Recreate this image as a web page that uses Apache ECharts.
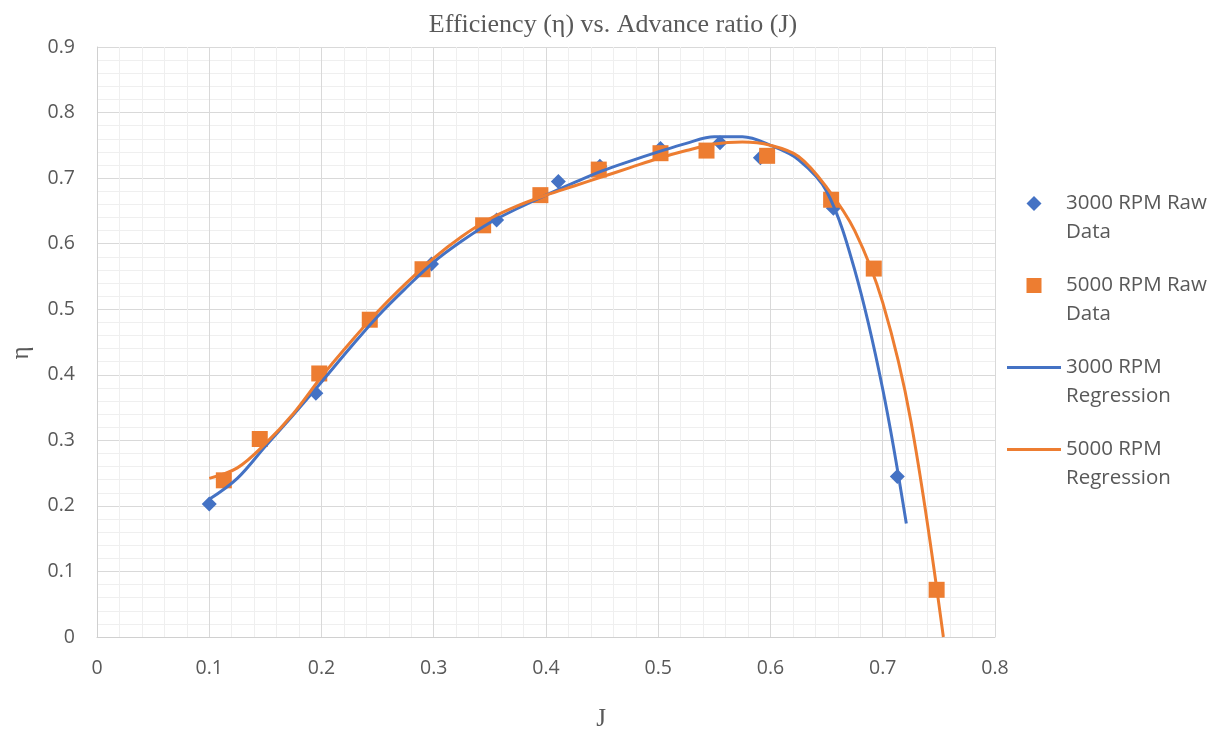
<!DOCTYPE html>
<html><head><meta charset="utf-8">
<script src="https://cdn.jsdelivr.net/npm/echarts@6/dist/echarts.min.js"></script>
<style>html,body{margin:0;padding:0;background:#fff}#c{width:1226px;height:736px}</style>
</head><body><div id="c"></div>
<script>
const chartTitle = 'Efficiency (η) vs. Advance ratio (J)';
const xAxisName = 'J';
const yAxisName = 'η';
const seriesNames = ['3000 RPM Raw Data', '5000 RPM Raw Data', '3000 RPM Regression', '5000 RPM Regression'];
const legendLabels = ['3000 RPM Raw\nData', '5000 RPM Raw\nData', '3000 RPM\nRegression', '5000 RPM\nRegression'];

// Raw data
const j3000Raw   = [0.100, 0.195, 0.298, 0.356, 0.411, 0.448, 0.502, 0.555, 0.591, 0.656, 0.713];
const eta3000Raw = [0.203, 0.372, 0.569, 0.636, 0.695, 0.718, 0.745, 0.754, 0.731, 0.654, 0.245];
const j5000Raw   = [0.113, 0.145, 0.198, 0.243, 0.290, 0.344, 0.395, 0.447, 0.502, 0.543, 0.597, 0.654, 0.692, 0.748];
const eta5000Raw = [0.239, 0.302, 0.402, 0.484, 0.561, 0.628, 0.674, 0.713, 0.738, 0.742, 0.734, 0.667, 0.562, 0.072];

// Regression curves
const j3000Reg   = [0.100, 0.125, 0.150, 0.175, 0.200, 0.225, 0.250, 0.275, 0.300, 0.325, 0.350, 0.375, 0.400, 0.425, 0.450, 0.475, 0.500, 0.525, 0.550, 0.575, 0.600, 0.625, 0.650, 0.675, 0.700, 0.721];
const eta3000Reg = [0.210, 0.242, 0.291, 0.339, 0.389, 0.440, 0.489, 0.532, 0.572, 0.604, 0.632, 0.654, 0.674, 0.693, 0.711, 0.726, 0.740, 0.753, 0.763, 0.763, 0.750, 0.728, 0.680, 0.560, 0.378, 0.173];
const j5000Reg   = [0.100, 0.125, 0.150, 0.175, 0.200, 0.225, 0.250, 0.275, 0.300, 0.325, 0.350, 0.375, 0.400, 0.425, 0.450, 0.475, 0.500, 0.525, 0.550, 0.575, 0.600, 0.625, 0.650, 0.675, 0.700, 0.725, 0.754];
const eta5000Reg = [0.242, 0.258, 0.295, 0.341, 0.397, 0.448, 0.496, 0.539, 0.578, 0.611, 0.638, 0.658, 0.674, 0.688, 0.702, 0.716, 0.730, 0.742, 0.752, 0.755, 0.750, 0.733, 0.686, 0.620, 0.510, 0.330, 0.000];

const xTicks = { min: 0, max: 0.8, interval: 0.1 };
const yTicks = { min: 0, max: 0.9, interval: 0.1 };

const BLUE = '#4472C4', ORANGE = '#ED7D31', TXT = '#595959';
const zip = (a, b) => a.map((v, i) => [v, b[i]]);
const sans = '"Open Sans", "Noto Sans", sans-serif';
const serif = '"Liberation Serif", "DejaVu Serif", serif';

const chart = echarts.init(document.getElementById('c'), null, { renderer: 'canvas' });
chart.setOption({
  animation: false,
  backgroundColor: '#fff',
  title: {
    text: chartTitle, left: 'center', top: 7,
    textStyle: { fontFamily: serif, fontSize: 26, fontWeight: 'normal', color: TXT }
  },
  grid: { left: 97, right: 231, top: 47, bottom: 99, containLabel: false, outerBoundsMode: 'none' },
  legend: {
    orient: 'vertical', left: 1007, top: 160, padding: 0,
    itemWidth: 54, itemHeight: 15, itemGap: -5, symbolKeepAspect: true,
    data: [
      { name: seriesNames[0], icon: 'path://M0,-1L1,0L0,1L-1,0Z' },
      { name: seriesNames[1], icon: 'path://M0,0H1V1H0Z' },
      { name: seriesNames[2], icon: 'path://M0,0H54V3H0Z' },
      { name: seriesNames[3], icon: 'path://M0,0H54V3H0Z' }
    ],
    formatter: n => '\n' + legendLabels[seriesNames.indexOf(n)],
    textStyle: { fontFamily: sans, fontSize: 20.5, color: TXT, lineHeight: 29 }
  },
  xAxis: {
    type: 'value', min: xTicks.min, max: xTicks.max, interval: xTicks.interval,
    name: xAxisName, nameLocation: 'middle', nameGap: 70,
    nameTextStyle: { fontFamily: serif, fontSize: 25, color: TXT, padding: [0, 0, 0, 110] },
    axisLine: { show: true, lineStyle: { color: '#d0d0d0', width: 1 } },
    axisTick: { show: false },
    axisLabel: { fontFamily: sans, fontSize: 19.5, color: TXT, margin: 21 },
    splitLine: { show: true, lineStyle: { color: '#d9d9d9', width: 1 } },
    minorTick: { show: false, splitNumber: 5 },
    minorSplitLine: { show: true, lineStyle: { color: '#efefef', width: 1 } }
  },
  yAxis: {
    type: 'value', min: yTicks.min, max: yTicks.max, interval: yTicks.interval,
    name: yAxisName, nameLocation: 'middle', nameGap: 63, nameRotate: 90,
    nameTextStyle: { fontFamily: serif, fontSize: 25, color: TXT, padding: [0, 22, 0, 0] },
    axisLine: { show: true, lineStyle: { color: '#d0d0d0', width: 1 } },
    axisTick: { show: false },
    axisLabel: { fontFamily: sans, fontSize: 19.5, color: TXT, margin: 22 },
    splitLine: { show: true, lineStyle: { color: '#d9d9d9', width: 1 } },
    minorTick: { show: false, splitNumber: 5 },
    minorSplitLine: { show: true, lineStyle: { color: '#efefef', width: 1 } }
  },
  series: [
    { name: seriesNames[0], type: 'scatter', data: zip(j3000Raw, eta3000Raw),
      symbol: 'diamond', symbolSize: [15, 15], itemStyle: { color: BLUE, opacity: 1 }, z: 2 },
    { name: seriesNames[1], type: 'scatter', data: zip(j5000Raw, eta5000Raw),
      symbol: 'rect', symbolSize: [16, 16], itemStyle: { color: ORANGE, opacity: 1 }, z: 3 },
    { name: seriesNames[2], type: 'line', data: zip(j3000Reg, eta3000Reg), smooth: 0.35,
      symbol: 'none', lineStyle: { color: BLUE, width: 3 }, itemStyle: { color: BLUE }, z: 4 },
    { name: seriesNames[3], type: 'line', data: zip(j5000Reg, eta5000Reg), smooth: 0.35,
      symbol: 'none', lineStyle: { color: ORANGE, width: 3 }, itemStyle: { color: ORANGE }, z: 5 }
  ]
});
</script></body></html>
